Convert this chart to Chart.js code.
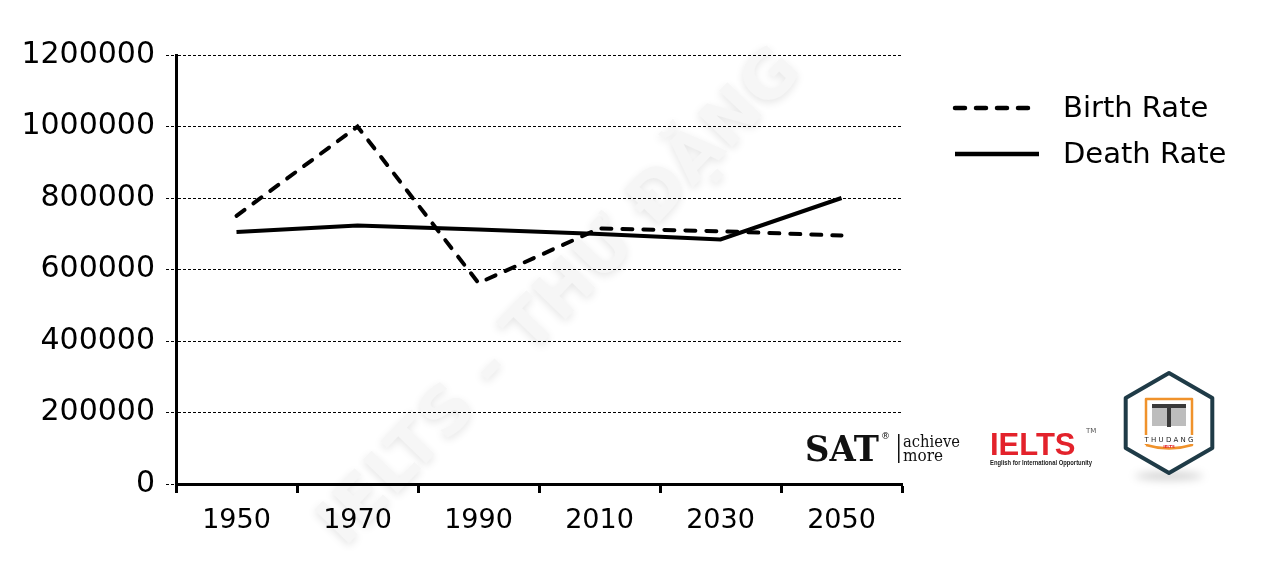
<!DOCTYPE html>
<html>
<head>
<meta charset="utf-8">
<script src="https://cdn.jsdelivr.net/npm/chart.js@4"></script>
<style>
  html, body { margin: 0; padding: 0; background: #fff; }
</style>
</head>
<body>
<canvas id="chart" width="1267" height="583"></canvas>
<script>
// values
const years = ['1950', '1970', '1990', '2010', '2030', '2050'];
const birthRate = [750000, 1000000, 562000, 715000, 707000, 695000];
const deathRate = [705000, 723000, 712000, 699000, 684000, 800000];
const yTicks = [0, 200000, 400000, 600000, 800000, 1000000, 1200000];

const FONT = '"DejaVu Sans", sans-serif';

// faint diagonal watermark behind everything
const watermark = {
  id: 'watermark',
  beforeDraw(chart) {
    const c = chart.ctx;
    c.save();
    c.translate(562, 298);
    c.rotate(-46 * Math.PI / 180);
    c.font = 'bold 66px ' + FONT;
    c.textAlign = 'center';
    c.textBaseline = 'middle';
    c.shadowColor = 'rgba(0,0,0,0.10)';
    c.shadowBlur = 8;
    c.shadowOffsetY = 3;
    c.fillStyle = '#f6f6f6';
    c.fillText('IELTS - THƯ ĐẶNG', 0, 0);
    c.restore();
  }
};

// legend on the right, samples styled from the datasets
const sideLegend = {
  id: 'sideLegend',
  afterDraw(chart) {
    const c = chart.ctx;
    chart.data.datasets.forEach((ds, i) => {
      const y = 108 + i * 46;
      c.save();
      c.strokeStyle = ds.borderColor;
      c.lineWidth = 4.5;
      c.lineCap = ds.borderCapStyle || 'butt';
      c.setLineDash(ds.borderDash || []);
      c.beginPath();
      c.moveTo(955, y);
      c.lineTo(1039, y);
      c.stroke();
      c.setLineDash([]);
      c.fillStyle = '#000';
      c.font = '29px ' + FONT;
      c.textBaseline = 'middle';
      c.fillText(ds.label, 1063, y + 1);
      c.restore();
    });
  }
};

// the little logos in the lower right corner
const logos = {
  id: 'logos',
  afterDraw(chart) {
    const c = chart.ctx;
    c.save();
    // SAT
    c.fillStyle = '#111';
    c.font = 'bold 36px "DejaVu Serif", serif';
    c.textBaseline = 'alphabetic';
    c.fillText('SAT', 805, 461, 74);
    c.font = '9px ' + FONT;
    c.fillText('®', 881, 439);
    c.fillRect(898, 434, 1.5, 29);
    c.font = '16px "DejaVu Serif", serif';
    c.fillText('achieve', 903, 447, 57);
    c.fillText('more', 903, 461, 40);
    // IELTS
    c.fillStyle = '#e3222b';
    c.font = 'bold 31px "Liberation Sans", sans-serif';
    c.fillText('IELTS', 990, 455, 94);
    c.fillStyle = '#555';
    c.font = '7px ' + FONT;
    c.fillText('TM', 1086, 433);
    c.fillStyle = '#222';
    c.font = 'bold 7px "Liberation Sans", sans-serif';
    c.fillText('English for International Opportunity', 990, 465, 102);
    // hexagon badge
    const cx = 1169, cy = 423, r = 50;
    c.fillStyle = 'rgba(0,0,0,0.18)';
    c.filter = 'blur(4px)';
    c.beginPath();
    c.ellipse(cx, 476, 34, 4, 0, 0, Math.PI * 2);
    c.fill();
    c.filter = 'none';
    c.beginPath();
    for (let k = 0; k < 6; k++) {
      const a = (-90 + k * 60) * Math.PI / 180;
      const px = cx + r * Math.cos(a), py = cy + r * Math.sin(a);
      if (k === 0) c.moveTo(px, py); else c.lineTo(px, py);
    }
    c.closePath();
    c.fillStyle = '#fff';
    c.fill();
    c.lineWidth = 4;
    c.lineJoin = 'round';
    c.strokeStyle = '#1f3b47';
    c.stroke();
    // orange frame
    c.strokeStyle = '#f0922b';
    c.lineWidth = 2.5;
    c.beginPath();
    c.moveTo(1146, 445);
    c.lineTo(1146, 399);
    c.lineTo(1192, 399);
    c.lineTo(1192, 445);
    c.quadraticCurveTo(1169, 452, 1146, 445);
    c.stroke();
    // book
    c.fillStyle = '#3a3a3a';
    c.fillRect(1152, 404, 15, 4);
    c.fillRect(1171, 404, 15, 4);
    c.fillStyle = '#bdbdbd';
    c.fillRect(1152, 408, 15, 18);
    c.fillRect(1171, 408, 15, 18);
    c.fillStyle = '#3a3a3a';
    c.fillRect(1167, 404, 4, 23);
    // text
    c.fillStyle = '#fff';
    c.fillRect(1137, 435, 64, 9);
    c.fillStyle = '#222';
    c.font = '7px ' + FONT;
    c.textAlign = 'center';
    c.fillText('T H U D A N G', cx, 442);
    c.fillStyle = '#e3222b';
    c.font = 'bold 4px ' + FONT;
    c.fillText('IELTS', cx, 448);
    c.restore();
  }
};

const ctx = document.querySelector('#chart');

const newChart = new Chart(ctx, {
  type: 'line',
  data: {
    labels: years,
    datasets: [{
      label: 'Birth Rate',
      data: birthRate,
      borderColor: '#000',
      borderWidth: 4,
      borderDash: [10, 11],
      borderCapStyle: 'round',
      pointRadius: 0,
      tension: 0,
      fill: false
    }, {
      label: 'Death Rate',
      data: deathRate,
      borderColor: '#000',
      borderWidth: 4,
      pointRadius: 0,
      tension: 0,
      fill: false
    }]
  },
  options: {
    responsive: false,
    animation: false,
    layout: { padding: { top: 55, right: 365, bottom: 0, left: 0 } },
    plugins: {
      legend: { display: false },
      tooltip: { enabled: false }
    },
    scales: {
      x: {
        offset: true,
        grid: {
          offset: true,
          drawOnChartArea: false,
          drawTicks: true,
          tickLength: 9,
          tickWidth: 3,
          tickColor: '#000'
        },
        border: { display: true, color: '#000', width: 3 },
        ticks: { color: '#000', font: { family: FONT, size: 27 }, padding: 12 },
        afterFit: s => { s.height = 99; }
      },
      y: {
        min: 0,
        max: 1200000,
        afterBuildTicks: s => { s.ticks = yTicks.map(v => ({ value: v })); },
        ticks: {
          color: '#000',
          font: { family: FONT, size: 30 },
          padding: 11,
          callback: v => String(v)
        },
        grid: {
          color: '#000',
          lineWidth: 1,
          tickLength: 10,
          tickColor: '#000',
          tickBorderDash: [3, 2]
        },
        border: { display: true, color: '#000', width: 3, dash: [3, 2] },
        afterFit: s => { s.width = 176; }
      }
    }
  },
  plugins: [watermark, sideLegend, logos]
});
</script>
</body>
</html>
